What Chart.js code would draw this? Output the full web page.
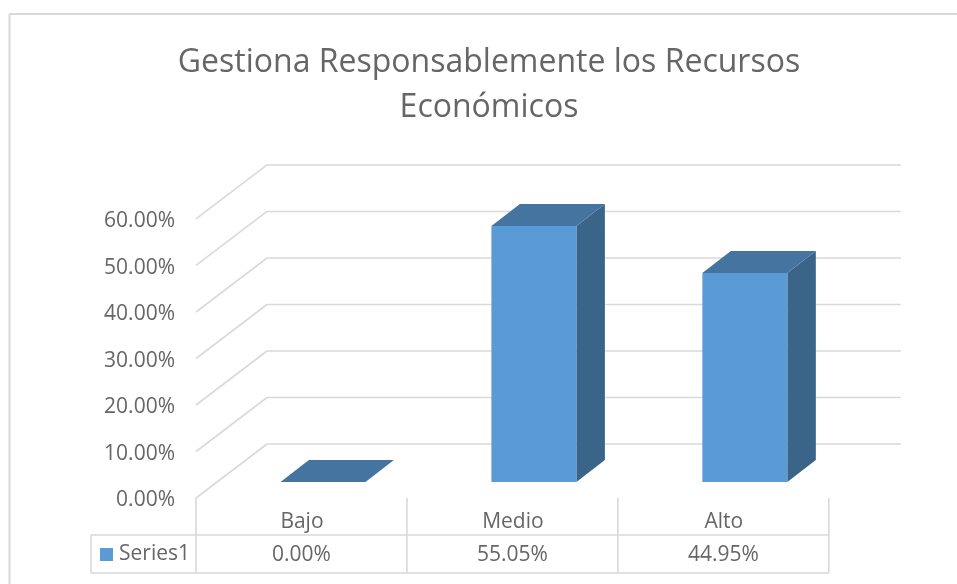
<!DOCTYPE html>
<html>
<head>
<meta charset="utf-8">
<style>
  html, body { margin: 0; padding: 0; background: #fff; }
  #wrap { position: relative; width: 957px; height: 584px; overflow: hidden; }
</style>
<script src="https://cdn.jsdelivr.net/npm/chart.js@4/dist/chart.umd.js"></script>
</head>
<body>
<div id="wrap"><canvas id="c" width="957" height="584"></canvas></div>
<script>
const titleLines = ['Gestiona Responsablemente los Recursos', 'Económicos'];
const categories = ['Bajo', 'Medio', 'Alto'];
const seriesName = 'Series1';
const seriesValues = [0, 55.05, 44.95];

const FONT = '"Open Sans", sans-serif';
const TEXT = '#666666';
const GRID = '#d9d9d9';
const pct = v => Number(v).toFixed(2) + '%';

// bars stand in the middle plane, the walls and the table hang off it by these offsets
const FRONT = { x: -21.5, y: 16 };
const BACK = { x: 49.5, y: -38 };
const DEPTH = { x: 28.5, y: -22 };

function line(ctx, x1, y1, x2, y2) {
    ctx.beginPath();
    ctx.moveTo(x1, y1);
    ctx.lineTo(x2, y2);
    ctx.stroke();
}

function poly(ctx, pts, color) {
    ctx.fillStyle = color;
    ctx.beginPath();
    pts.forEach((p, i) => i ? ctx.lineTo(p[0], p[1]) : ctx.moveTo(p[0], p[1]));
    ctx.closePath();
    ctx.fill();
}

const walls3d = {
    id: 'walls3d',
    afterLayout(chart) {
        // tick labels are wider than the box the padding leaves, widen it so they are not clipped
        chart.scales.y.left = 80;
    },
    beforeDatasetsDraw(chart) {
        const { ctx, chartArea: a, scales: { y } } = chart;
        ctx.save();
        // chart frame, only left and top show in the picture
        ctx.strokeStyle = GRID;
        ctx.lineWidth = 2;
        line(ctx, 9.5, 584, 9.5, 14);
        line(ctx, 9.5, 14, 957, 14);
        // floor and back wall grid
        ctx.lineWidth = 1.6;
        y.ticks.forEach(t => {
            const py = y.getPixelForValue(t.value);
            line(ctx, a.left + FRONT.x, py + FRONT.y, a.left + BACK.x, py + BACK.y);
            line(ctx, a.left + BACK.x, py + BACK.y, a.right + BACK.x + 1, py + BACK.y);
        });
        // side and top faces of each bar
        chart.getDatasetMeta(0).data.forEach(bar => {
            const l = bar.x - bar.width / 2, r = bar.x + bar.width / 2;
            poly(ctx, [[r, bar.y], [r + DEPTH.x, bar.y + DEPTH.y], [r + DEPTH.x, bar.base + DEPTH.y], [r, bar.base]], '#3a6589');
            poly(ctx, [[l, bar.y], [l + DEPTH.x, bar.y + DEPTH.y], [r + DEPTH.x, bar.y + DEPTH.y], [r, bar.y]], '#44749f');
        });
        ctx.restore();
    },
    afterDraw(chart) {
        const { ctx, chartArea: a, scales: { x, y } } = chart;
        const zero = y.getPixelForValue(0);
        const top = zero + FRONT.y, mid = 535, bottom = 573;
        const step = x.width / categories.length;
        const left = a.left + FRONT.x;
        ctx.save();
        ctx.strokeStyle = GRID;
        ctx.lineWidth = 1.6;
        // data table under the chart
        line(ctx, 91, mid, left + step * categories.length, mid);
        line(ctx, 91, bottom, left + step * categories.length, bottom);
        line(ctx, 91, mid, 91, bottom);
        for (let i = 0; i <= categories.length; i++) {
            line(ctx, left + step * i, top, left + step * i, bottom);
        }
        ctx.font = '21px ' + FONT;
        ctx.fillStyle = TEXT;
        ctx.textBaseline = 'middle';
        ctx.textAlign = 'center';
        seriesValues.forEach((v, i) => ctx.fillText(pct(v), left + step * (i + 0.5), 555));
        ctx.textAlign = 'left';
        ctx.fillText(seriesName, 119, 554);
        ctx.fillStyle = '#5b9bd5';
        ctx.fillRect(100, 548, 13, 13);
        ctx.restore();
    }
};

new Chart(document.getElementById('c'), {
    type: 'bar',
    data: {
        labels: categories,
        datasets: [{
            label: seriesName,
            data: seriesValues,
            backgroundColor: '#5b9bd5',
            barPercentage: 0.403,
            categoryPercentage: 1
        }]
    },
    options: {
        responsive: false,
        animation: false,
        layout: { padding: { left: 127.7, right: 106.7, top: 0, bottom: 0 } },
        plugins: {
            legend: { display: false },
            tooltip: { enabled: false },
            title: {
                display: true,
                text: titleLines,
                color: TEXT,
                font: { family: FONT, size: 32, weight: 'normal', lineHeight: 1.406 },
                padding: { top: 40.5, bottom: 72.5 }
            }
        },
        scales: {
            x: {
                grid: { display: false, drawTicks: false },
                border: { display: false },
                ticks: {
                    color: TEXT,
                    font: { family: FONT, size: 21 },
                    autoSkip: false,
                    maxRotation: 0,
                    padding: 27,
                    labelOffset: -21
                },
                afterFit(s) { s.height = 102; }
            },
            y: {
                min: 0,
                max: 60,
                grid: { display: false, drawTicks: false },
                border: { display: false },
                ticks: {
                    color: TEXT,
                    font: { family: FONT, size: 21 },
                    stepSize: 10,
                    padding: 42.5,
                    labelOffset: 18.5,
                    callback: v => pct(v)
                },
                afterFit(s) { s.width = 89.8; }
            }
        }
    },
    plugins: [walls3d]
});
</script>
</body>
</html>
